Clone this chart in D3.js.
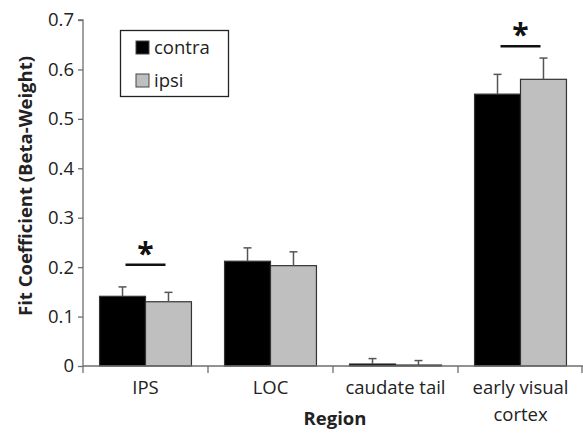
<!DOCTYPE html>
<html><head><meta charset="utf-8">
<script src="https://cdn.jsdelivr.net/npm/d3@7"></script>
<style>body{margin:0;background:#fff;} svg{display:block;font-family:"Open Sans",sans-serif;}</style>
</head><body>
<svg id="c" width="583" height="434"></svg>
<script>
const categories = [["IPS"], ["LOC"], ["caudate tail"], ["early visual", "cortex"]];
const seriesNames = ["contra", "ipsi"];
const contra = [0.141, 0.212, 0.004, 0.550];
const ipsi = [0.130, 0.203, 0.002, 0.580];
const contraErr = [0.019, 0.027, 0.011, 0.040];
const ipsiErr = [0.019, 0.028, 0.009, 0.043];
const yTicks = [0, 0.1, 0.2, 0.3, 0.4, 0.5, 0.6, 0.7];
const sigLevel = [0.205, null, null, 0.647];
const colors = ["#000000", "#bfbfbf"];

(function () {
const svg = d3.select("#c");
const mLeft = 83, mRight = 583, mTop = 20, mBottom = 366;
const x = d3.scaleBand().domain(d3.range(categories.length)).range([mLeft, mRight]).paddingInner(0).paddingOuter(0);
const y = d3.scaleLinear().domain([0, 0.7]).range([mBottom, mTop]);
const inner = d3.scaleBand().domain(seriesNames).range([0, x.bandwidth()]).paddingInner(0).paddingOuter(0.36);
const axisColor = "#6e6e6e";
const fs = 18.5;

// Y axis
const yAxis = svg.append("g").attr("transform", `translate(${mLeft},0)`)
  .call(d3.axisLeft(y).tickValues(yTicks).tickSize(5).tickPadding(4).tickFormat(d => d === 0 ? "0" : d3.format(".1f")(d)));
yAxis.select(".domain").attr("stroke", axisColor).attr("stroke-width", 1.3).attr("d", `M-5,${mTop}H0V${mBottom}`);
yAxis.selectAll(".tick line").attr("stroke", axisColor).attr("stroke-width", 1.3);
yAxis.selectAll(".tick text").attr("font-size", fs).attr("fill", "#222").attr("font-family", "Open Sans");

// bars
const data = [contra, ipsi];
const errs = [contraErr, ipsiErr];
seriesNames.forEach((s, si) => {
  svg.append("g").selectAll("rect").data(data[si]).join("rect")
    .attr("x", (d, i) => x(i) + inner(s))
    .attr("y", d => y(d))
    .attr("width", inner.bandwidth())
    .attr("height", d => y(0) - y(d))
    .attr("fill", colors[si]).attr("stroke", "#333").attr("stroke-width", 1.2);
  const eg = svg.append("g").attr("stroke", "#555").attr("stroke-width", 1.5);
  data[si].forEach((v, i) => {
    const cx = x(i) + inner(s) + inner.bandwidth() / 2;
    eg.append("line").attr("x1", cx).attr("x2", cx).attr("y1", y(v)).attr("y2", y(v + errs[si][i]));
    eg.append("line").attr("x1", cx - 4).attr("x2", cx + 4).attr("y1", y(v + errs[si][i])).attr("y2", y(v + errs[si][i]));
  });
});

// X axis
const xAxis = svg.append("g").attr("transform", `translate(0,${mBottom})`);
xAxis.append("line").attr("x1", mLeft).attr("x2", mRight).attr("y1", 0).attr("y2", 0).attr("stroke", axisColor).attr("stroke-width", 1.3);
d3.range(categories.length + 1).forEach(i => {
  const xx = i < categories.length ? x(i) : mRight - 1;
  xAxis.append("line").attr("x1", xx).attr("x2", xx).attr("y1", 0).attr("y2", 7).attr("stroke", axisColor).attr("stroke-width", 1.3);
});
categories.forEach((c, i) => {
  const t = xAxis.append("text").attr("text-anchor", "middle").attr("font-size", fs).attr("fill", "#222")
    .attr("x", x(i) + x.bandwidth() / 2).attr("y", 28);
  c.forEach((line, li) => t.append("tspan").attr("x", x(i) + x.bandwidth() / 2).attr("dy", li === 0 ? 0 : 27).text(line));
});

// significance markers
sigLevel.forEach((lv, i) => {
  if (lv === null) return;
  const ly = y(lv);
  const cx = x(i) + x.bandwidth() / 2;
  svg.append("line").attr("x1", cx - 20).attr("x2", cx + 20).attr("y1", ly).attr("y2", ly).attr("stroke", "#111").attr("stroke-width", 2.5);
  svg.append("text").attr("x", cx).attr("y", ly - 1).attr("text-anchor", "middle").attr("font-size", 30).attr("font-weight", "bold").attr("fill", "#111").text("*");
});

// axis titles
svg.append("text").attr("transform", `translate(32,186) rotate(-90)`).attr("text-anchor", "middle")
  .attr("font-size", 18.5).attr("font-weight", "bold").attr("fill", "#222").text("Fit Coefficient (Beta-Weight)");
svg.append("text").attr("x", 335).attr("y", 425).attr("text-anchor", "middle").attr("font-size", 18.5).attr("font-weight", "bold").attr("fill", "#222").text("Region");

// legend
const lg = svg.append("g");
lg.append("rect").attr("x", 120.5).attr("y", 30.5).attr("width", 108).attr("height", 66).attr("fill", "#fff").attr("stroke", "#222").attr("stroke-width", 1.3);
seriesNames.forEach((s, si) => {
  const yy = 41 + si * 33;
  lg.append("rect").attr("x", 136).attr("y", yy).attr("width", 13).attr("height", 13).attr("fill", colors[si]).attr("stroke", "#444").attr("stroke-width", 1);
  lg.append("text").attr("x", 154).attr("y", yy + 13).attr("font-size", 18.5).attr("fill", "#222").text(s);
});
})();
</script>
</body></html>
